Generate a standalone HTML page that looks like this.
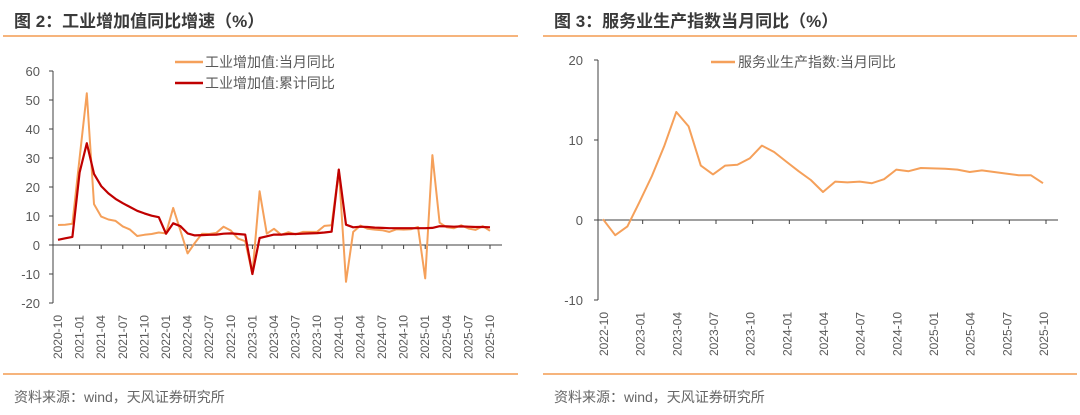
<!DOCTYPE html>
<html><head><meta charset="utf-8"><style>
body{margin:0;background:#fff;width:1080px;height:410px;overflow:hidden;font-family:"Liberation Sans","Noto Sans CJK SC",sans-serif}
svg text{font-family:"Liberation Sans","Noto Sans CJK SC",sans-serif}
</style></head><body>
<svg id="s" width="1080" height="410" xmlns="http://www.w3.org/2000/svg">
<text x="14" y="27" font-size="17" font-weight="bold" fill="#3a3a3a">图 2：工业增加值同比增速（%）</text>
<text x="554" y="27" font-size="17" font-weight="bold" fill="#3a3a3a">图 3：服务业生产指数当月同比（%）</text>
<line x1="3" y1="36" x2="518" y2="36" stroke="#f39c50" stroke-width="1.5"/>
<line x1="543" y1="36" x2="1077" y2="36" stroke="#f39c50" stroke-width="1.5"/>
<line x1="3" y1="374" x2="518" y2="374" stroke="#f39c50" stroke-width="1.5"/>
<line x1="543" y1="374" x2="1077" y2="374" stroke="#f39c50" stroke-width="1.5"/>
<text x="14" y="402" font-size="14" fill="#666">资料来源：wind，天风证券研究所</text>
<text x="554" y="402" font-size="14" fill="#666">资料来源：wind，天风证券研究所</text>
<g id="g"></g>
</svg>
<script>
var g=document.getElementById('g'),h='';
function ln(a,b,c,d,col,w){h+='<line x1="'+a+'" y1="'+b+'" x2="'+c+'" y2="'+d+'" stroke="'+col+'" stroke-width="'+w+'"/>';}
function tx(x,y,t,sz,anchor,rot){h+='<text x="'+x+'" y="'+y+'" font-size="'+sz+'" fill="#595959" text-anchor="'+anchor+'"'+(rot?' transform="rotate(-90 '+x+' '+y+')"':'')+'>'+t+'</text>';}
function pl(pts,col,w){h+='<polyline fill="none" stroke="'+col+'" stroke-width="'+w+'" stroke-linejoin="round" points="'+pts.join(' ')+'"/>';}
// LEFT
var Lx0=58,Ldx=(490-58)/60,Ly=function(v){return 245-v*2.9;};
ln(53,71,53,303,'#404040',1);
for(var v=-20;v<=60;v+=10){ln(49,Ly(v),53,Ly(v),'#404040',1);tx(40,Ly(v)+5,v,13,'end');}
ln(53,245,502,245,'#404040',1);
var ym=[[2020,10]];for(var y=2021;y<=2025;y++)for(var m=1;m<=10;m+=3)ym.push([y,m]);
for(var i=0;i<ym.length;i++){var k=i==0?0:(ym[i][0]-2021)*12+ym[i][1]+2;var x=Lx0+k*Ldx;if(i>0)ln(x,245,x,249,'#404040',1);tx(x+4,315,ym[i][0]+'-'+(ym[i][1]<10?'0':'')+ym[i][1],12,'end',1);}
var o=[6.9,7,7.3,30,52.3,14.1,9.8,8.8,8.3,6.4,5.3,3.1,3.5,3.8,4.3,4,12.8,5,-2.9,0.7,3.9,3.8,4.2,6.3,5,2.2,1.3,-10,18.5,3.9,5.6,3.5,4.4,3.7,4.5,4.5,4.6,6.6,6.8,26,-12.7,4.5,6.7,5.6,5.3,5.1,4.5,5.4,5.3,5.4,6.2,-11.5,31,7.7,6.1,5.8,6.8,5.7,5.2,6.5,4.9];
var r=[1.8,2.3,2.8,25,35.1,24.5,20.3,17.8,15.9,14.4,13.1,11.8,10.9,10.1,9.6,3.9,7.5,6.5,4,3.3,3.4,3.5,3.6,3.9,4,3.8,3.6,-10,2.4,3,3.6,3.6,3.8,3.8,3.9,4,4.1,4.3,4.6,26,7,6.1,6.3,6.2,6,5.9,5.8,5.8,5.8,5.8,5.8,5.8,5.9,6.5,6.4,6.3,6.4,6.3,6.2,6.2,6.1];
pl(o.map(function(v,i){return (Lx0+i*Ldx).toFixed(1)+','+Ly(v).toFixed(1);}),'#f5a05a',2);
pl(r.map(function(v,i){return (Lx0+i*Ldx).toFixed(1)+','+Ly(v).toFixed(1);}),'#c00000',2.2);
ln(175,62,203,62,'#f5a05a',2.5);tx(205,67,'工业增加值:当月同比',14,'start');
ln(175,83,203,83,'#c00000',2.5);tx(205,88,'工业增加值:累计同比',14,'start');
// RIGHT
var Rx0=603,Rdx=(1043-603)/36,Ry=function(v){return 220-v*8;};
ln(598,60,598,300,'#404040',1);
for(var v=-10;v<=20;v+=10){ln(594,Ry(v),598,Ry(v),'#404040',1);tx(583,Ry(v)+5,v,13,'end');}
ln(598,220,1058,220,'#404040',1);
var ry=[[2022,10]];for(var y=2023;y<=2025;y++)for(var m=1;m<=10;m+=3)ry.push([y,m]);
for(var i=0;i<ry.length;i++){var k=i*3;var x=Rx0+k*Rdx;if(i>0)ln(x+3,220,x+3,224,'#404040',1);tx(x+5,312,ry[i][0]+'-'+(ry[i][1]<10?'0':'')+ry[i][1],12,'end',1);}
var s=[0.1,-1.9,-0.8,2.3,5.5,9.2,13.5,11.7,6.8,5.7,6.8,6.9,7.7,9.3,8.5,7.3,6.1,5,3.5,4.8,4.7,4.8,4.6,5.1,6.3,6.1,6.5,6.45,6.4,6.3,6,6.2,6,5.8,5.6,5.6,4.6];
pl(s.map(function(v,i){return (Rx0+i*Rdx).toFixed(1)+','+Ry(v).toFixed(1);}),'#f5a05a',2);
ln(711,62,735,62,'#f5a05a',2.5);tx(738,67,'服务业生产指数:当月同比',14,'start');
g.innerHTML=h;
</script>
</body></html>
